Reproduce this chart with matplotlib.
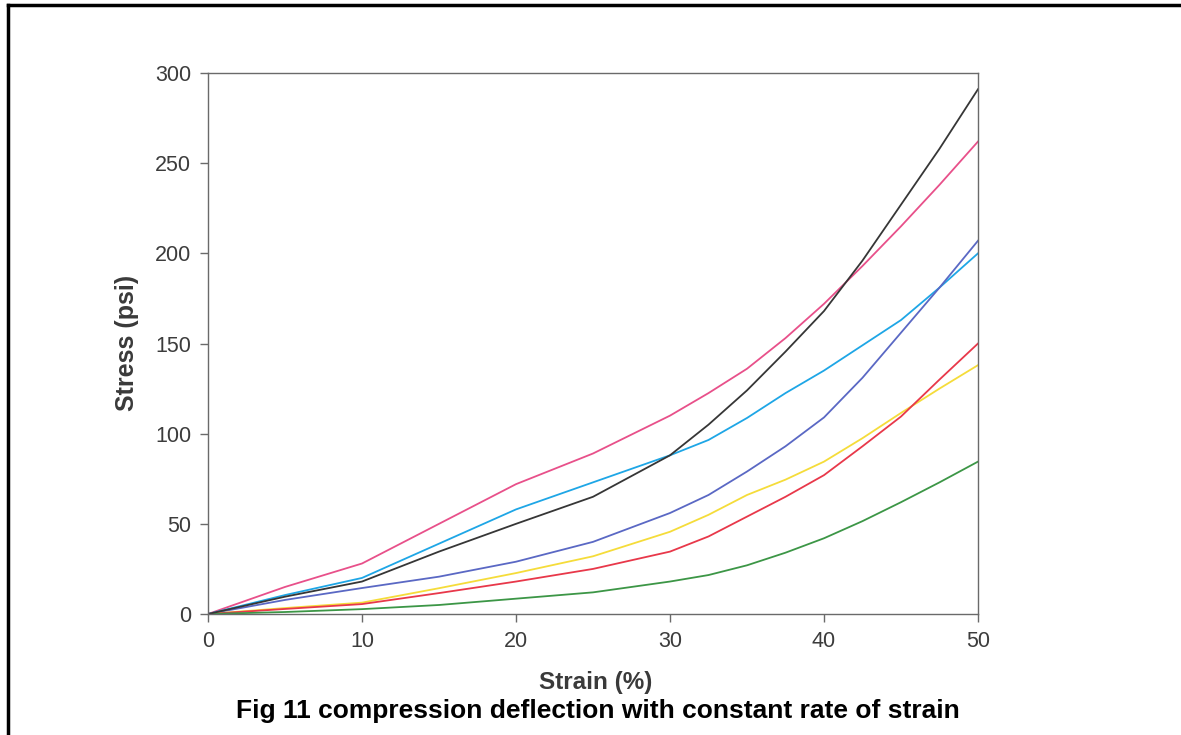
import matplotlib.pyplot as plt
from matplotlib.lines import Line2D

# Values (stress in psi at each strain %)
strain = [0, 5, 10, 15, 20, 25, 30, 32.5, 35, 37.5, 40, 42.5, 45, 47.5, 50]
pink = [0, 15, 28, 50, 72, 89, 110, 122.5, 136, 153, 172, 193, 215, 238, 262]
black = [0, 9.6, 18, 34.6, 50, 65, 88, 105, 124, 145.5, 168, 196, 227, 258, 291]
cyan = [0, 10.5, 20, 39, 58, 73, 88, 96.5, 108.7, 122.5, 135, 149, 163, 181, 200]
blue = [0, 7.8, 14.4, 20.7, 29, 40, 56, 66, 79, 93, 109, 131, 156, 181, 207]
yellow = [0, 3.3, 6.3, 14.3, 22.7, 32, 45.6, 55, 66, 74.5, 84.5, 97.5, 111.5, 125, 138]
red = [0, 2.8, 5.5, 11.6, 18, 25, 34.6, 43, 54, 65, 77, 93, 109.5, 130, 150]
green = [0, 1.1, 2.7, 5, 8.5, 12, 18, 21.6, 27, 34, 42, 51.5, 62, 73, 84.5]

series = [
    (pink, "#e8508a"),
    (cyan, "#1ea6e6"),
    (blue, "#5a68c4"),
    (yellow, "#f5dc3a"),
    (red, "#e8384a"),
    (green, "#3c9646"),
    (black, "#363636"),
]

plt.rcParams['font.family'] = ['Liberation Sans', 'DejaVu Sans']

fig = plt.figure(figsize=(11.81, 7.35), dpi=100)
ax = fig.add_axes([208 / 1181, 121 / 735, 770 / 1181, 541 / 735])

for vals, col in series:
    ax.plot(strain, vals, color=col, lw=1.3)

ax.set_xlim(0, 50)
ax.set_ylim(0, 300)
ax.set_xticks(range(0, 51, 10))
ax.set_yticks(range(0, 301, 50))
for s in ax.spines.values():
    s.set_color("#6a6a6a")
    s.set_linewidth(1.0)
ax.tick_params(direction="out", length=6, width=1, color="#6a6a6a",
               labelsize=15.5, labelcolor="#3c3c3c", pad=6)

fig.text(596 / 1181, 1 - 683 / 735, "Strain (%)", ha="center", va="center",
         fontsize=17.5, fontweight="bold", color="#3a3a3a")
fig.text(127 / 1181, 1 - 343 / 735, "Stress (psi)", ha="center", va="center",
         fontsize=18, fontweight="bold", color="#3a3a3a", rotation=90)
fig.text(598 / 1181, 1 - 711 / 735,
         "Fig 11 compression deflection with constant rate of strain",
         ha="center", va="center", fontsize=19, fontweight="bold", color="black")

# frame lines (left and top) around the figure
fig.add_artist(Line2D([8 / 1181, 8 / 1181], [0, 1 - 5 / 735], color="black", lw=2.5))
fig.add_artist(Line2D([8 / 1181, 1], [1 - 5 / 735, 1 - 5 / 735], color="black", lw=2.5))

fig.savefig("out.png", dpi=100)
